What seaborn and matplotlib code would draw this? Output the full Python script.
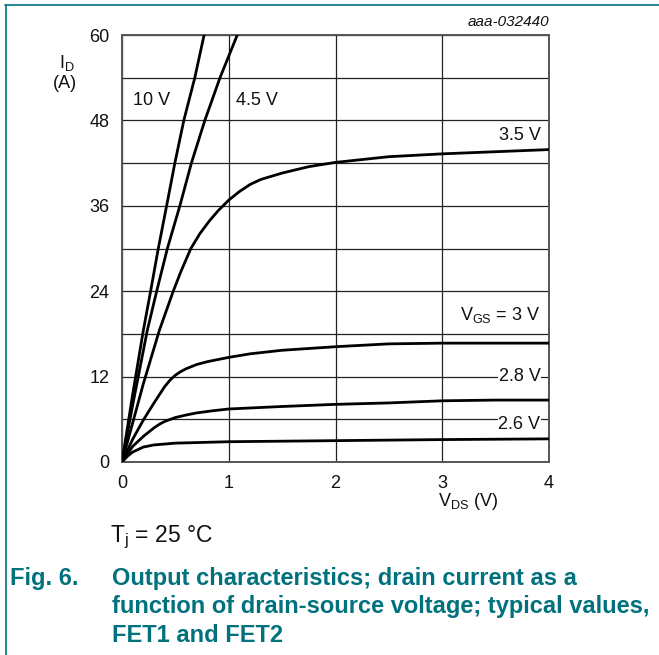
import numpy as np
import pandas as pd
import matplotlib
matplotlib.use("Agg")
import matplotlib.pyplot as plt
from matplotlib.lines import Line2D
import seaborn as sns

# curves: V_DS (V) -> I_D (A), one pair per V_GS
vds_10v = [0, 0.1, 0.2, 0.268, 0.34, 0.418, 0.495, 0.579, 0.682, 0.769, 0.79]
id_10v = [0, 9.5, 18.5, 24, 30, 36, 42, 48, 54, 60, 61.5]

vds_4v5 = [0, 0.1, 0.237, 0.325, 0.425, 0.542, 0.65, 0.776, 0.918, 1.08, 1.1]
id_4v5 = [0, 8, 18.5, 24, 30, 36, 42, 48, 54, 60, 61]

vds_3v5 = [0, 0.1, 0.2, 0.35, 0.48, 0.55, 0.645, 0.73, 0.82, 0.9, 1.0, 1.1, 1.2,
           1.3, 1.5, 1.75, 2.0, 2.5, 3.0, 3.5, 4.0]
id_3v5 = [0, 5.5, 11, 18.5, 24, 26.7, 30, 32.1, 33.9, 35.3, 36.8, 38.0, 39.0,
          39.7, 40.6, 41.5, 42.1, 42.9, 43.3, 43.6, 43.9]

vds_3v = [0, 0.1, 0.2, 0.3, 0.4, 0.45, 0.5, 0.55, 0.6, 0.7, 0.8, 0.9, 1.0,
          1.2, 1.5, 2.0, 2.5, 3.0, 4.0]
id_3v = [0, 3.2, 5.9, 8.3, 10.6, 11.5, 12.2, 12.7, 13.1, 13.7, 14.1, 14.4, 14.7,
         15.2, 15.7, 16.2, 16.6, 16.7, 16.7]

vds_2v8 = [0, 0.1, 0.2, 0.3, 0.35, 0.4, 0.5, 0.6, 0.7, 0.85, 1.0, 1.5, 2.0,
           2.5, 3.0, 3.5, 4.0]
id_2v8 = [0, 2.2, 3.6, 4.8, 5.3, 5.7, 6.25, 6.6, 6.9, 7.2, 7.45, 7.8, 8.1,
          8.3, 8.6, 8.7, 8.7]

vds_2v6 = [0, 0.05, 0.1, 0.2, 0.3, 0.5, 1.0, 2.0, 3.0, 4.0]
id_2v6 = [0, 0.8, 1.4, 2.1, 2.4, 2.65, 2.85, 3.0, 3.15, 3.25]

curve_names = ["10 V", "4.5 V", "3.5 V", "3 V", "2.8 V", "2.6 V"]

x_ticks = [0, 1, 2, 3, 4]
y_ticks = [0, 12, 24, 36, 48, 60]
y_grid = [6, 18, 30, 42, 54]

TEAL = "#00727d"
INK = "#111111"
FS = 13

sns.set_style("white")
plt.rcParams["font.family"] = ["Liberation Sans", "DejaVu Sans"]

frames = []
for name, xs, ys in zip(curve_names,
                        [vds_10v, vds_4v5, vds_3v5, vds_3v, vds_2v8, vds_2v6],
                        [id_10v, id_4v5, id_3v5, id_3v, id_2v8, id_2v6]):
    frames.append(pd.DataFrame({"vds": xs, "id": ys, "vgs": name}))
df = pd.concat(frames, ignore_index=True)

fig = plt.figure(figsize=(6.59, 6.55), dpi=100)
ax = fig.add_axes([122 / 659, 1 - 462 / 655, 427 / 659, 427 / 655])

sns.lineplot(data=df, x="vds", y="id", units="vgs", estimator=None, sort=False,
             color="black", linewidth=2.0, ax=ax, zorder=3)

ax.set_xlim(0, 4)
ax.set_ylim(0, 60)
ax.set_xticks(x_ticks)
ax.set_yticks(y_ticks)
ax.set_yticks(y_grid, minor=True)
ax.tick_params(axis="both", which="both", length=0, labelsize=FS, colors=INK)
ax.tick_params(axis="y", pad=9)
ax.tick_params(axis="x", pad=9)
ax.grid(True, which="major", axis="x", color="#222222", linewidth=0.9)
ax.grid(True, which="both", axis="y", color="#222222", linewidth=0.9)
ax.set_xlabel("")
ax.set_ylabel("")
for sp in ax.spines.values():
    sp.set_color("#555555")
    sp.set_linewidth(1.4)

# curve labels
lbl = dict(fontsize=FS, color=INK, zorder=4)
ax.text(0.1, 50.8, "10 V", ha="left", va="center", **lbl)
ax.text(1.07, 50.8, "4.5 V", ha="left", va="center", **lbl)
ax.text(3.92, 45.9, "3.5 V", ha="right", va="center", **lbl)
ax.text(3.92, 20.6, r"$\mathregular{V_{GS}}$ = 3 V", ha="right", va="center", **lbl)
box = dict(facecolor="white", edgecolor="none", pad=0.5)
ax.text(3.92, 12, "2.8 V", ha="right", va="center", bbox=box, **lbl)
ax.text(3.92, 5.2, "2.6 V", ha="right", va="center", bbox=box, **lbl)

# outside texts
fig.text(549 / 659, 1 - 22 / 655, "aaa-032440", ha="right", va="center",
         fontsize=11, style="italic", color=INK)
fig.text(67 / 659, 1 - 63 / 655, r"$\mathregular{I_D}$", ha="center", va="center",
         fontsize=FS, color=INK)
fig.text(65 / 659, 1 - 83 / 655, "(A)", ha="center", va="center", fontsize=FS, color=INK)
fig.text(468 / 659, 1 - 501 / 655, r"$\mathregular{V_{DS}}$ (V)", ha="center", va="center",
         fontsize=FS, color=INK)
fig.text(110 / 659, 1 - 537 / 655, r"$\mathregular{T_j}$ = 25 °C", ha="left", va="center",
         fontsize=16.5, color=INK)

cap = dict(fontsize=17, fontweight="bold", color=TEAL, va="center", ha="left")
fig.text(10 / 659, 1 - 578 / 655, "Fig. 6.", **cap)
caption_lines = ["Output characteristics; drain current as a",
                 "function of drain-source voltage; typical values,",
                 "FET1 and FET2"]
for i, line in enumerate(caption_lines):
    fig.text(112 / 659, 1 - (578 + 28.5 * i) / 655, line, **cap)

# teal frame lines at top and left
fig.add_artist(Line2D([5 / 659, 1], [1 - 5 / 655, 1 - 5 / 655], color=TEAL, linewidth=1.2))
fig.add_artist(Line2D([5.5 / 659, 5.5 / 659], [0, 1 - 5 / 655], color=TEAL, linewidth=1.2))

fig.savefig("out.png", dpi=100)
